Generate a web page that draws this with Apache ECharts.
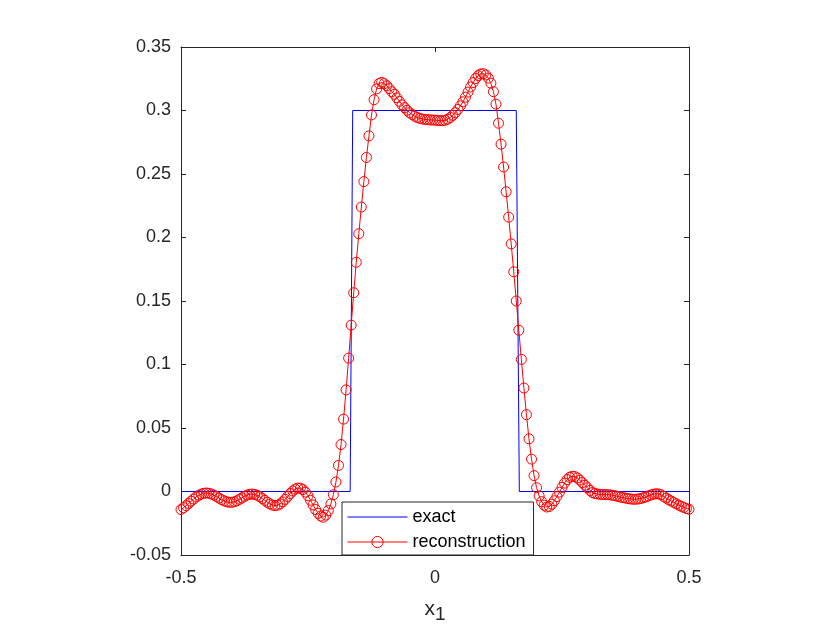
<!DOCTYPE html>
<html>
<head>
<meta charset="utf-8">
<script src="https://cdn.jsdelivr.net/npm/echarts@6/dist/echarts.min.js"></script>
<style>
html, body { margin: 0; padding: 0; background: #fff; }
#chart { width: 840px; height: 630px; }
</style>
</head>
<body>
<div id="chart"></div>
<script>
// sample grid of the reconstruction (x from -0.5 to 0.5)
var xStart = -0.5;
var xStep = 0.005;

// reconstruction values
var reconValues = [
	-0.0142, -0.0128, -0.0112, -0.0094, -0.0076, -0.0059, -0.0043, -0.0030, -0.0020, -0.0014,
	-0.0012, -0.0014, -0.0020, -0.0029, -0.0040, -0.0052, -0.0064, -0.0074, -0.0081, -0.0085,
	-0.0085, -0.0081, -0.0073, -0.0062, -0.0050, -0.0038, -0.0028, -0.0022, -0.0020, -0.0023,
	-0.0030, -0.0041, -0.0055, -0.0070, -0.0085, -0.0098, -0.0107, -0.0111, -0.0108, -0.0098,
	-0.0082, -0.0062, -0.0039, -0.0016, 0.0004, 0.0019, 0.0027, 0.0026, 0.0015, -0.0005,
	-0.0034, -0.0069, -0.0106, -0.0142, -0.0172, -0.0193, -0.0203, -0.0186, -0.0150, -0.0098,
	-0.0025, 0.0075, 0.0205, 0.0370, 0.0570, 0.0800, 0.1050, 0.1310, 0.1565, 0.1805,
	0.2030, 0.2240, 0.2440, 0.2630, 0.2800, 0.2965, 0.3085, 0.3170, 0.3212, 0.3222,
	0.3212, 0.3195, 0.3172, 0.3148, 0.3128, 0.3100, 0.3072, 0.3045, 0.3022, 0.3002,
	0.2983, 0.2968, 0.2955, 0.2945, 0.2938, 0.2933, 0.2930, 0.2928, 0.2926, 0.2925,
	0.2924, 0.2922, 0.2920, 0.2920, 0.2923, 0.2932, 0.2945, 0.2962, 0.2983, 0.3008,
	0.3037, 0.3068, 0.3105, 0.3145, 0.3185, 0.3220, 0.3252, 0.3275, 0.3288, 0.3290,
	0.3280, 0.3255, 0.3215, 0.3148, 0.3050, 0.2900, 0.2735, 0.2555, 0.2360, 0.2160,
	0.1950, 0.1730, 0.1500, 0.1270, 0.1040, 0.0815, 0.0605, 0.0415, 0.0255, 0.0125,
	0.0030, -0.0035, -0.0080, -0.0108, -0.0122, -0.0118, -0.0100, -0.0073, -0.0040, -0.0005,
	0.0032, 0.0066, 0.0094, 0.0112, 0.0120, 0.0118, 0.0107, 0.0090, 0.0070, 0.0049,
	0.0030, 0.0008, -0.0008, -0.0016, -0.0020, -0.0022, -0.0023, -0.0024, -0.0025, -0.0027,
	-0.0030, -0.0034, -0.0039, -0.0044, -0.0048, -0.0052, -0.0056, -0.0059, -0.0061, -0.0061,
	-0.0059, -0.0055, -0.0050, -0.0043, -0.0035, -0.0027, -0.0021, -0.0018, -0.0019, -0.0025,
	-0.0039, -0.0052, -0.0064, -0.0075, -0.0086, -0.0097, -0.0108, -0.0117, -0.0126, -0.0134,
	-0.0140
];

// exact box function
var exactX = [-0.5, -0.167, -0.162, 0.16, 0.166, 0.5];
var exactY = [0, 0, 0.3, 0.3, 0, 0];

var seriesNames = ['exact', 'reconstruction'];

(function() {
	var myChart = echarts.init(document.getElementById('chart'));

	var axisColor = '#262626';
	var font = 'Liberation Sans, Arial, Helvetica, sans-serif';

	var reconData = reconValues.map(function(v, i) {
		return [xStart + i * xStep, v];
	});
	var exactData = exactX.map(function(x, i) {
		return [x, exactY[i]];
	});

	function tickFmt(v) {
		return String(parseFloat(v.toFixed(2)));
	}

	function xAxisOpt(pos, labels) {
		return {
			type: 'value',
			position: pos,
			min: -0.5,
			max: 0.5,
			interval: 0.5,
			axisLine: { show: true, onZero: false, lineStyle: { color: axisColor, width: 1 } },
			axisTick: { show: true, inside: true, length: 5, lineStyle: { color: axisColor } },
			axisLabel: { show: labels, margin: 14, fontSize: 18, fontFamily: font, color: axisColor, formatter: tickFmt },
			splitLine: { show: false }
		};
	}

	function yAxisOpt(pos, labels) {
		return {
			type: 'value',
			position: pos,
			min: -0.05,
			max: 0.35,
			interval: 0.05,
			axisLine: { show: true, onZero: false, lineStyle: { color: axisColor, width: 1 } },
			axisTick: { show: true, inside: true, length: 5, lineStyle: { color: axisColor } },
			axisLabel: { show: labels, margin: 10, fontSize: 18, fontFamily: font, color: axisColor, formatter: tickFmt },
			splitLine: { show: false }
		};
	}

	var xBottom = xAxisOpt('bottom', true);
	xBottom.name = 'x{s|1}';
	xBottom.nameLocation = 'middle';
	xBottom.nameGap = 39;
	xBottom.nameTextStyle = {
		fontSize: 21,
		fontFamily: font,
		color: axisColor,
		lineHeight: 30,
		rich: {
			s: { fontSize: 19, fontFamily: font, color: axisColor, verticalAlign: 'bottom', lineHeight: 30 }
		}
	};

	var option = {
		animation: false,
		backgroundColor: '#fff',
		grid: { left: 181, right: 151, top: 47, bottom: 75 },
		xAxis: [xBottom, xAxisOpt('top', false)],
		yAxis: [yAxisOpt('left', true), yAxisOpt('right', false)],
		legend: {
			orient: 'vertical',
			left: 342,
			top: 502,
			padding: [6, 8, 4, 5],
			itemGap: 7,
			itemWidth: 60,
			itemHeight: 14,
			backgroundColor: '#fff',
			borderColor: axisColor,
			borderWidth: 1,
			borderRadius: 0,
			textStyle: { fontSize: 18, fontFamily: font, color: '#000' },
			data: [{
					name: seriesNames[0],
					lineStyle: { color: '#0000ff', width: 1 },
					itemStyle: { color: 'rgba(0,0,0,0)', borderWidth: 0, opacity: 0 }
				},
				{
					name: seriesNames[1],
					lineStyle: { color: '#ff0000', width: 1 },
					itemStyle: { color: 'rgba(255,255,255,0)', borderColor: '#ff0000', borderWidth: 1 }
				}
			]
		},
		series: [{
				name: seriesNames[0],
				type: 'line',
				xAxisIndex: 0,
				yAxisIndex: 0,
				symbol: 'none',
				lineStyle: { color: '#0000ff', width: 1 },
				itemStyle: { color: '#0000ff' },
				data: exactData
			},
			{
				name: seriesNames[1],
				type: 'line',
				xAxisIndex: 0,
				yAxisIndex: 0,
				symbol: 'circle',
				symbolSize: 10,
				showAllSymbol: true,
				lineStyle: { color: '#ff0000', width: 1 },
				itemStyle: { color: 'rgba(255,255,255,0)', borderColor: '#ff0000', borderWidth: 1 },
				data: reconData
			}
		]
	};

	myChart.setOption(option);
})();
</script>
</body>
</html>
